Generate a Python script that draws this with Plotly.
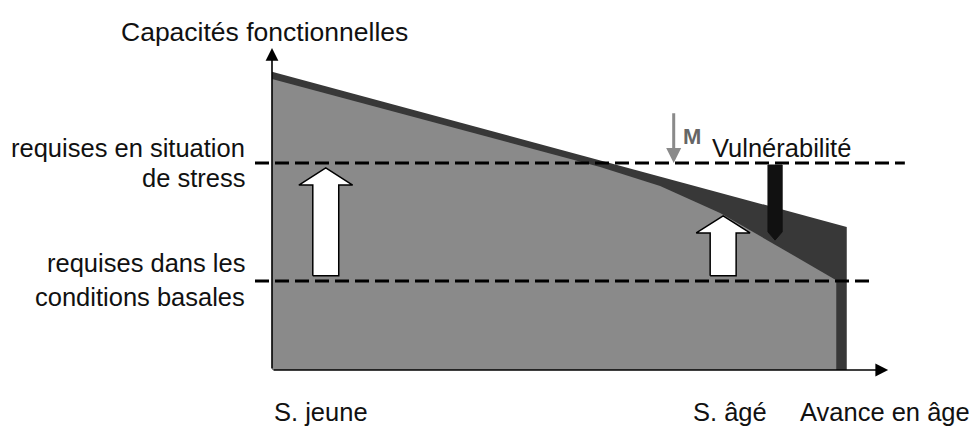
import plotly.graph_objects as go

# ---------------- data (conceptual units: age 0..100, capacity 0..100) -------------
# outer envelope: functional capacities incl. reserve (dark)
age_outer = [0, 93.0, 93.0, 0]
cap_outer = [90.9, 43.6, 0, 0]
# inner envelope: capacities actually available (lighter)
age_inner = [0, 53.1, 62.8, 72.5, 91.3, 91.3, 0]
cap_inner = [88.7, 61.9, 56.1, 47.9, 27.4, 0, 0]

level_stress = 63.1
level_basal = 27.1
stress_line_x = [-2.75, 102.4]
basal_line_x = [-2.75, 97.1]

# white "adaptation" arrows : x position, base, tip
white_arrow_x = [8.7, 73.0]
white_arrow_base = [28.7, 28.7]
white_arrow_tip = [61.6, 47.0]

# vulnerability arrow (black, downward)
vuln_x = 81.4
vuln_top = 62.5
vuln_bottom = 39.6

# margin arrow M
m_x = 65.0
m_top = 78.7
m_tip = level_stress

y_labels = ["requises en situation", "de stress", "requises dans les", "conditions basales"]
y_label_pos = [67.7, 58.5, 32.6, 22.3]
x_labels = ["S. jeune", "S. âgé", "Avance en âge"]
x_label_pos = [0.0, 74.1, 99.2]

# ---------------- figure -------------
FONT = "Liberation Sans, Arial, sans-serif"
LIGHT = "#8a8a8a"
DARK = "#383838"
FS = 25.5

fig = go.Figure()

fig.add_trace(go.Scatter(x=age_outer, y=cap_outer, fill="toself", fillcolor=DARK,
                         mode="lines", line=dict(width=0, color=DARK), hoverinfo="skip"))
fig.add_trace(go.Scatter(x=age_inner, y=cap_inner, fill="toself", fillcolor=LIGHT,
                         mode="lines", line=dict(width=0, color=LIGHT), hoverinfo="skip"))

# dashed requirement levels
for xs, lvl in [(stress_line_x, level_stress), (basal_line_x, level_basal)]:
    fig.add_trace(go.Scatter(x=xs, y=[lvl, lvl], mode="lines",
                             line=dict(color="black", width=3, dash="14px,6px"),
                             hoverinfo="skip"))

# white arrows
HEAD_LEN = 5.2
HEAD_HW = 4.35
SHAFT_HW = 2.1
for xc, b, t in zip(white_arrow_x, white_arrow_base, white_arrow_tip):
    hb = t - HEAD_LEN
    px = [xc - SHAFT_HW, xc - SHAFT_HW, xc - HEAD_HW, xc, xc + HEAD_HW, xc + SHAFT_HW, xc + SHAFT_HW, xc - SHAFT_HW]
    py = [b, hb, hb, t, hb, hb, b, b]
    fig.add_trace(go.Scatter(x=px, y=py, fill="toself", fillcolor="white", mode="lines",
                             line=dict(color="black", width=1.5), hoverinfo="skip"))

# vulnerability arrow
vw = 1.15
fig.add_trace(go.Scatter(
    x=[vuln_x - vw, vuln_x + vw, vuln_x + vw, vuln_x, vuln_x - vw, vuln_x - vw],
    y=[vuln_top, vuln_top, vuln_bottom + 2.5, vuln_bottom, vuln_bottom + 2.5, vuln_top],
    fill="toself", fillcolor="#111111", mode="lines", line=dict(color="#111111", width=1),
    hoverinfo="skip"))

annotations = []
# axes with arrowheads
annotations.append(dict(x=99.7, y=0, ax=0, ay=0, xref="x", yref="y", axref="x", ayref="y",
                        showarrow=True, arrowhead=2, arrowsize=1.6, arrowwidth=1.6,
                        arrowcolor="black", text=""))
annotations.append(dict(x=0, y=98.2, ax=0, ay=0, xref="x", yref="y", axref="x", ayref="y",
                        showarrow=True, arrowhead=2, arrowsize=1.6, arrowwidth=1.6,
                        arrowcolor="black", text=""))
# M arrow
annotations.append(dict(x=m_x, y=m_tip, ax=m_x, ay=m_top, xref="x", yref="y", axref="x", ayref="y",
                        showarrow=True, arrowhead=2, arrowsize=1, arrowwidth=3,
                        arrowcolor="#8a8a8a", text=""))

annotations.append(dict(x=22.3, y=103.0, xref="x", yref="y", text="Capacités fonctionnelles",
                        showarrow=False, xanchor="right", yanchor="middle",
                        font=dict(family=FONT, size=26.5, color="#111")))
for txt, yy in zip(y_labels, y_label_pos):
    annotations.append(dict(x=-4.05, y=yy, xref="x", yref="y", text=txt, showarrow=False,
                            xanchor="right", yanchor="middle",
                            font=dict(family=FONT, size=FS, color="#111")))
for i, (txt, xx) in enumerate(zip(x_labels, x_label_pos)):
    annotations.append(dict(x=xx, y=-12.8, xref="x", yref="y", text=txt, showarrow=False,
                            xanchor="left" if i == 0 else "center", yanchor="middle",
                            font=dict(family=FONT, size=FS, color="#111")))
annotations.append(dict(x=82.5, y=67.7, xref="x", yref="y", text="Vulnérabilité", showarrow=False,
                        xanchor="center", yanchor="middle",
                        font=dict(family=FONT, size=FS, color="#111")))
annotations.append(dict(x=68.0, y=71.3, xref="x", yref="y", text="<b>M</b>", showarrow=False,
                        xanchor="center", yanchor="middle",
                        font=dict(family=FONT, size=22, color="#666")))

# the page body adds an 8px offset; margins compensate for it
fig.update_layout(
    width=977, height=432,
    margin=dict(l=224, r=16, t=12, b=15),
    paper_bgcolor="white", plot_bgcolor="white",
    showlegend=False,
    xaxis=dict(range=[-6.472, 112.78], visible=False, fixedrange=True),
    yaxis=dict(range=[-16.77, 106.71], visible=False, fixedrange=True),
    annotations=annotations,
)

fig.write_html("out.html")
